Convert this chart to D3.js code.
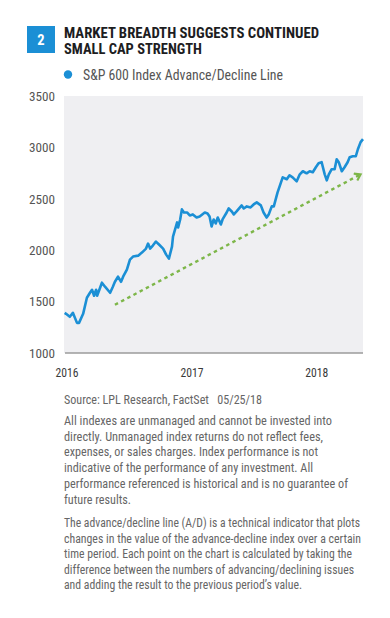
<!DOCTYPE html>
<html>
<head>
<meta charset="utf-8">
<script src="https://cdn.jsdelivr.net/npm/d3@7"></script>
<style>
  html, body { margin: 0; padding: 0; background: #fff; }
  svg { display: block; }
  text { font-family: "Roboto Condensed", "Liberation Sans Narrow", "DejaVu Sans Condensed", Roboto, sans-serif; }
</style>
</head>
<body>
<div id="chart"></div>
<script>
// S&P 600 advance/decline line
const dates = [
  '2016-01-03','2016-01-07','2016-01-18','2016-01-27','2016-02-08','2016-02-14','2016-02-26','2016-03-08',
  '2016-03-17','2016-03-23','2016-03-29','2016-04-04','2016-04-07','2016-04-21','2016-04-30','2016-05-15',
  '2016-05-23','2016-05-29','2016-06-07','2016-06-16','2016-06-22','2016-07-03','2016-07-12','2016-07-21',
  '2016-08-05','2016-08-16','2016-08-28','2016-09-03','2016-09-09','2016-09-17','2016-09-26','2016-10-05',
  '2016-10-17','2016-10-26','2016-11-03','2016-11-12','2016-11-15','2016-11-27','2016-11-30','2016-12-06',
  '2016-12-11','2016-12-17','2016-12-26','2017-01-03','2017-01-12','2017-01-23','2017-02-01','2017-02-16',
  '2017-02-24','2017-03-02','2017-03-08','2017-03-14','2017-03-20','2017-03-26','2017-04-04','2017-04-09',
  '2017-04-21','2017-04-27','2017-05-06','2017-05-12','2017-05-20','2017-06-04','2017-06-10','2017-06-19',
  '2017-06-30','2017-07-09','2017-07-18','2017-07-30','2017-08-07','2017-08-16','2017-08-22','2017-08-31',
  '2017-09-06','2017-09-17','2017-10-02','2017-10-14','2017-10-22','2017-10-31','2017-11-12','2017-11-21',
  '2017-11-30','2017-12-11','2017-12-20','2017-12-29','2018-01-07','2018-01-15','2018-01-24','2018-02-02',
  '2018-02-08','2018-02-14','2018-02-22','2018-03-03','2018-03-09','2018-03-15','2018-03-24','2018-04-01',
  '2018-04-10','2018-04-16','2018-04-25','2018-05-04','2018-05-10','2018-05-18','2018-05-25'
];
const adLine = [
  1390, 1381, 1352, 1391, 1293, 1293, 1381, 1537,
  1586, 1615, 1557, 1615, 1557, 1684, 1645, 1586,
  1645, 1693, 1742, 1693, 1742, 1811, 1908, 1938,
  1947, 1977, 2016, 2064, 2016, 2045, 2084, 2055,
  2016, 1957, 1918, 2035, 2133, 2270, 2221, 2299,
  2397, 2367, 2367, 2338, 2348, 2318, 2328, 2367,
  2357, 2328, 2230, 2299, 2260, 2318, 2250, 2299,
  2367, 2406, 2377, 2348, 2377, 2436, 2406, 2426,
  2416, 2445, 2465, 2436, 2367, 2318, 2348, 2426,
  2426, 2563, 2709, 2690, 2729, 2709, 2670, 2738,
  2768, 2748, 2768, 2758, 2807, 2846, 2856, 2738,
  2680, 2738, 2787, 2787, 2885, 2856, 2768, 2807,
  2856, 2904, 2914, 2914, 2982, 3051, 3080
];
// dotted trend arrow
const trendDates = ['2016-05-29', '2018-05-18'];
const trendValues = [1469, 2738];

const yTicks = [1000, 1500, 2000, 2500, 3000, 3500];
const xTickLabels = ['2016', '2017', '2018'];

const titleLines = ['MARKET BREADTH SUGGESTS CONTINUED', 'SMALL CAP STRENGTH'];
const legendLabel = 'S&P 600 Index Advance/Decline Line';
const sourceLine = 'Source: LPL Research, FactSet\u00a0\u00a0\u00a005/25/18';
const note1 = [
  'All indexes are unmanaged and cannot be invested into',
  'directly. Unmanaged index returns do not reflect fees,',
  'expenses, or sales charges. Index performance is not',
  'indicative of the performance of any investment. All',
  'performance referenced is historical and is no guarantee of',
  'future results.'
];
const note2 = [
  'The advance/decline line (A/D) is a technical indicator that plots',
  'changes in the value of the advance-decline index over a certain',
  'time period. Each point on the chart is calculated by taking the',
  'difference between the numbers of advancing/declining issues',
  'and adding the result to the previous period\u2019s value.'
];

const W = 390, H = 618;
const blue = '#1b8fd5';
const parse = d3.timeParse('%Y-%m-%d');

const svg = d3.select('#chart').append('svg')
  .attr('width', W).attr('height', H);

svg.append('rect').attr('width', W).attr('height', H).attr('fill', '#fff');

// fit a line of text to a measured width
function fitText(sel, len) {
  sel.attr('textLength', len).attr('lengthAdjust', 'spacingAndGlyphs');
}

// header
svg.append('rect').attr('x', 27).attr('y', 26).attr('width', 28).attr('height', 27).attr('fill', blue);
svg.append('text').attr('x', 41).attr('y', 45).attr('text-anchor', 'middle')
  .attr('fill', '#fff').style('font-size', '14.5px').style('font-weight', 700).text('2');

const titleWidths = [255, 138];
titleLines.forEach((t, i) => {
  svg.append('text').attr('x', 64).attr('y', 37.8 + i * 15.8)
    .attr('fill', '#1d1d1f').style('font-size', '14.5px').style('font-weight', 700)
    .text(t).call(fitText, titleWidths[i]);
});

svg.append('circle').attr('cx', 68).attr('cy', 74.5).attr('r', 4.2).attr('fill', blue);
svg.append('text').attr('x', 83).attr('y', 80).attr('fill', '#555')
  .style('font-size', '14px').text(legendLabel).call(fitText, 200);

// chart area
const m = { left: 64, right: 363, top: 96, bottom: 353 };
const x = d3.scaleTime()
  .domain([parse('2016-01-01'), parse('2018-05-25')])
  .range([m.left, m.right]);
const y = d3.scaleLinear().domain([1000, 3500]).range([m.bottom, m.top]);

svg.append('rect').attr('x', m.left).attr('y', m.top)
  .attr('width', m.right - m.left).attr('height', m.bottom - m.top)
  .attr('fill', '#efeff2');

svg.append('line').attr('x1', m.left + 1).attr('x2', m.right)
  .attr('y1', m.bottom).attr('y2', m.bottom)
  .attr('stroke', '#9b9b9b').attr('stroke-width', 1.5);

svg.selectAll('.ytick').data(yTicks).enter().append('text')
  .attr('class', 'ytick')
  .attr('x', 55).attr('y', d => y(d)).attr('dy', '0.36em')
  .attr('text-anchor', 'end').attr('fill', '#555')
  .style('font-size', '13.5px')
  .text(d => d).call(fitText, 26);

svg.selectAll('.xtick').data(xTickLabels).enter().append('text')
  .attr('class', 'xtick')
  .attr('x', d => x(parse(d + '-01-01')) + 3).attr('y', 377)
  .attr('text-anchor', 'middle').attr('fill', '#3a3a3a')
  .style('font-size', '13.5px')
  .text(d => d).call(fitText, 23);

// trend arrow
const trend = trendDates.map((d, i) => [x(parse(d)), y(trendValues[i])]);
svg.append('defs').append('marker')
  .attr('id', 'chev').attr('viewBox', '0 0 10 10')
  .attr('refX', 7).attr('refY', 5)
  .attr('markerWidth', 4).attr('markerHeight', 4)
  .attr('orient', 'auto')
  .append('path').attr('d', 'M1,1 L7,5 L1,9')
  .attr('fill', 'none').attr('stroke', '#7db649').attr('stroke-width', 2.2);

svg.append('path')
  .attr('d', d3.line()(trend))
  .attr('fill', 'none').attr('stroke', '#7db649')
  .attr('stroke-width', 2.4).attr('stroke-dasharray', '3.5,3.5')
  .attr('marker-end', 'url(#chev)');

// A/D line
const series = dates.map((d, i) => ({ date: parse(d), value: adLine[i] }));
svg.append('path')
  .datum(series)
  .attr('d', d3.line().x(d => x(d.date)).y(d => y(d.value)))
  .attr('fill', 'none').attr('stroke', blue)
  .attr('stroke-width', 2.6).attr('stroke-linejoin', 'round');

// footnotes
svg.append('text').attr('x', 64).attr('y', 404).attr('fill', '#666')
  .style('font-size', '13px').text(sourceLine).call(fitText, 198);

const note1Widths = [268, 259, 254, 249, 284, 67];
note1.forEach((t, i) => {
  svg.append('text').attr('x', 64).attr('y', 425 + i * 15.7).attr('fill', '#666')
    .style('font-size', '13px').text(t).call(fitText, note1Widths[i]);
});

const note2Widths = [296, 297, 288, 290, 238];
note2.forEach((t, i) => {
  svg.append('text').attr('x', 64).attr('y', 527 + i * 15.6).attr('fill', '#666')
    .style('font-size', '13px').text(t).call(fitText, note2Widths[i]);
});
</script>
</body>
</html>
